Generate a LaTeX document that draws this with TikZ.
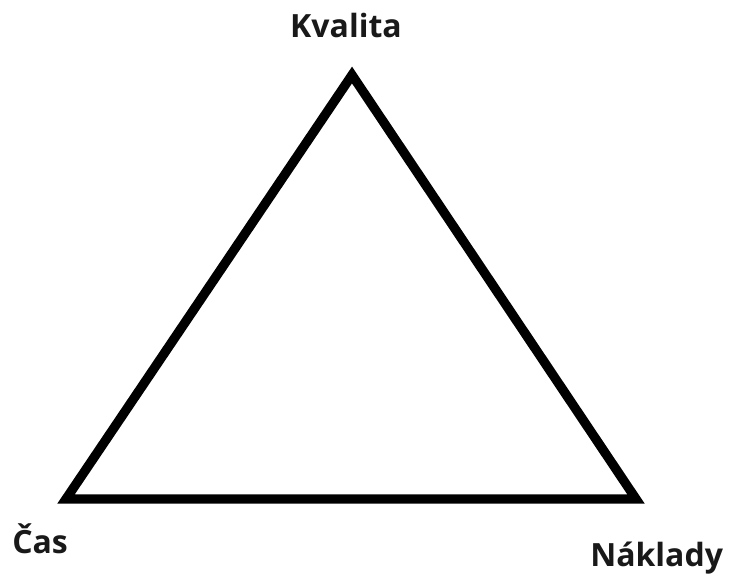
\documentclass[tikz,border=0pt]{standalone}
\usepackage{fontspec}
\setmainfont{Open Sans}
\usepackage{tikz}
\usetikzlibrary{positioning}

\begin{document}
\begin{tikzpicture}[
  x=0.75pt,y=-0.75pt,
  corner/.style={inner sep=0pt,font=\fontsize{24}{27}\selectfont\bfseries,text=black!90},
  side/.style={line width=7pt,draw=black,line join=miter}
]
\useasboundingbox (0,0) rectangle (731,576);
% vertices
\coordinate (top) at (352,75);
\coordinate (left) at (66,499);
\coordinate (right) at (636,499);
\draw[side] (top) -- (right) -- (left) -- cycle;
% labels
\node[corner,anchor=base] (kvalita) at (346,37) {Kvalita};
\node[corner,anchor=base west] (cas) at (12,553) {Čas};
\node[corner,anchor=base west] (naklady) at (590,566) {Náklady};
\end{tikzpicture}
\end{document}
